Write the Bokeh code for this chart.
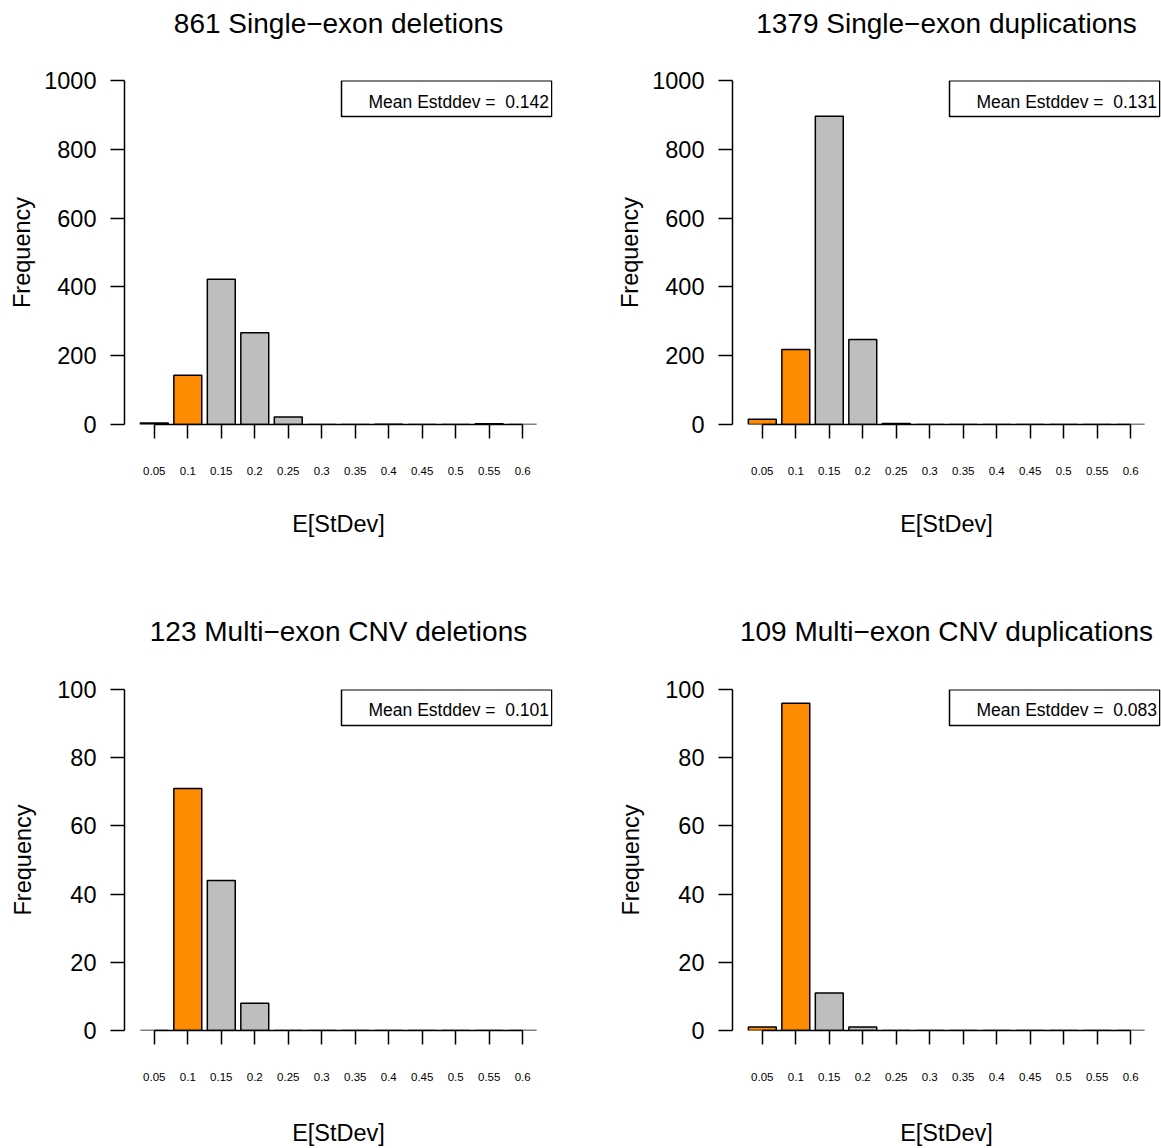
from bokeh.plotting import figure
from bokeh.models import (LinearAxis, FixedTicker, CustomJSTickFormatter,
                          BoxAnnotation, Label, ColumnDataSource)
from bokeh.layouts import column, row
from bokeh.embed import file_html
from bokeh.resources import INLINE

# ---------------- data ----------------
BINS = [0.05, 0.1, 0.15, 0.2, 0.25, 0.3, 0.35, 0.4, 0.45, 0.5, 0.55, 0.6]

single_del = [4, 143, 422, 267, 22, 0, 0, 1, 0, 0, 2, 0]
single_dup = [15, 218, 896, 247, 3, 0, 0, 0, 0, 0, 0, 0]
multi_del = [0, 71, 44, 8, 0, 0, 0, 0, 0, 0, 0, 0]
multi_dup = [1, 96, 11, 1, 0, 0, 0, 0, 0, 0, 0, 0]

titles = ["861 Single\u2212exon deletions", "1379 Single\u2212exon duplications",
          "123 Multi\u2212exon CNV deletions", "109 Multi\u2212exon CNV duplications"]
means = ["0.142", "0.131", "0.101", "0.083"]

YTICKS_TOP = [0, 200, 400, 600, 800, 1000]
YTICKS_BOTTOM = [0, 20, 40, 60, 80, 100]

HIGHLIGHT_MAX = 0.1   # bins up to this value drawn in orange

# ---------------- style ----------------
FONT = "Liberation Sans"
ORANGE = "#FF8C00"
GREY = "#BEBEBE"
FRAME_W = 428
X0, X1 = 0.0055, 0.6445
BAR_W = 0.05 / 1.2
LW = 1.5


def panel(title, counts, mean, yticks, left_b, right_b, top_b, frame_h, bottom_b,
          ylab_standoff, xlab_standoff, title_gap):
    ymax = yticks[-1]
    p = figure(width=left_b + FRAME_W + right_b, height=top_b + frame_h + bottom_b,
               x_range=(X0, X1), y_range=(0, ymax),
               x_axis_type=None, y_axis_type=None,
               output_backend="svg", toolbar_location=None,
               min_border_left=left_b, min_border_right=right_b,
               min_border_top=top_b, min_border_bottom=bottom_b)
    p.outline_line_color = None
    p.background_fill_color = "white"
    p.border_fill_color = "white"

    # white, label-less axis above the frame: only reserves a gap under the title
    spacer = LinearAxis(ticker=FixedTicker(ticks=[X0 + 0.002]),
                        formatter=CustomJSTickFormatter(code="return '';"),
                        axis_line_color=None,
                        major_tick_line_color="white", minor_tick_line_color=None,
                        major_tick_out=title_gap, major_tick_in=0,
                        minor_tick_out=0, minor_tick_in=0,
                        major_label_standoff=0, major_label_text_font_size="0px")
    p.add_layout(spacer, "above")

    p.title.text = title
    p.title.align = "center"
    p.title.text_font = FONT
    p.title.text_font_size = "28px"
    p.title.text_font_style = "normal"
    p.title.text_color = "black"
    p.title.standoff = 0

    colors = [ORANGE if b <= HIGHLIGHT_MAX + 1e-9 else GREY for b in BINS]
    src = ColumnDataSource(dict(x=BINS, top=counts, color=colors))
    p.vbar(x="x", top="top", bottom=0, width=BAR_W, fill_color="color",
           line_color="black", line_width=LW, source=src)

    xaxis = LinearAxis(
        ticker=FixedTicker(ticks=BINS),
        formatter=CustomJSTickFormatter(code="return String(Number(tick.toFixed(2)));"),
        bounds=(BINS[0], BINS[-1]),
        major_tick_out=14, major_tick_in=0, minor_tick_out=0, minor_tick_in=0,
        axis_line_width=LW, major_tick_line_width=LW,
        major_label_text_font=FONT, major_label_text_font_size="11.5px",
        major_label_text_color="black", major_label_standoff=28,
        axis_label="E[StDev]", axis_label_text_font=FONT,
        axis_label_text_font_size="23.5px", axis_label_text_font_style="normal",
        axis_label_text_color="black", axis_label_standoff=xlab_standoff)
    p.add_layout(xaxis, "below")

    yaxis = LinearAxis(
        ticker=FixedTicker(ticks=yticks),
        bounds=(0, ymax),
        major_tick_out=14, major_tick_in=0, minor_tick_out=0, minor_tick_in=0,
        axis_line_width=LW, major_tick_line_width=LW,
        major_label_text_font=FONT, major_label_text_font_size="23.5px",
        major_label_text_color="black", major_label_standoff=14,
        axis_label="Frequency", axis_label_text_font=FONT,
        axis_label_text_font_size="23.5px", axis_label_text_font_style="normal",
        axis_label_text_color="black", axis_label_standoff=ylab_standoff)
    p.add_layout(yaxis, "left")

    pxu = FRAME_W / (X1 - X0)
    pyu = frame_h / ymax
    box = BoxAnnotation(left=X1 - 211 / pxu, right=X1 - 0.75 / pxu,
                        top=ymax - 0.25 / pyu, bottom=ymax - 36 / pyu,
                        fill_color="white", fill_alpha=1.0,
                        line_color="black", line_width=LW, line_alpha=1.0)
    p.add_layout(box)
    lab = Label(x=X1 - 3.5 / pxu, y=ymax - 21.0 / pyu,
                text="Mean Estddev = \u00a0" + mean,
                text_align="right", text_baseline="middle",
                text_font=FONT, text_font_size="17.5px", text_color="black")
    p.add_layout(lab)
    return p


p1 = panel(titles[0], single_del, means[0], YTICKS_TOP, 124, 28, 80, 344, 150, 6, 33, 42)
p2 = panel(titles[1], single_dup, means[1], YTICKS_TOP, 732 - 580, 1, 80, 344, 150, 6, 33, 42)
p3 = panel(titles[2], multi_del, means[2], YTICKS_BOTTOM, 124, 28, 115, 342, 117, 18, 36, 43)
p4 = panel(titles[3], multi_dup, means[3], YTICKS_BOTTOM, 732 - 580, 1, 115, 342, 117, 18, 36, 43)

layout = column(row(p1, p2), row(p3, p4))

open("out.html", "w").write(file_html(layout, INLINE))
